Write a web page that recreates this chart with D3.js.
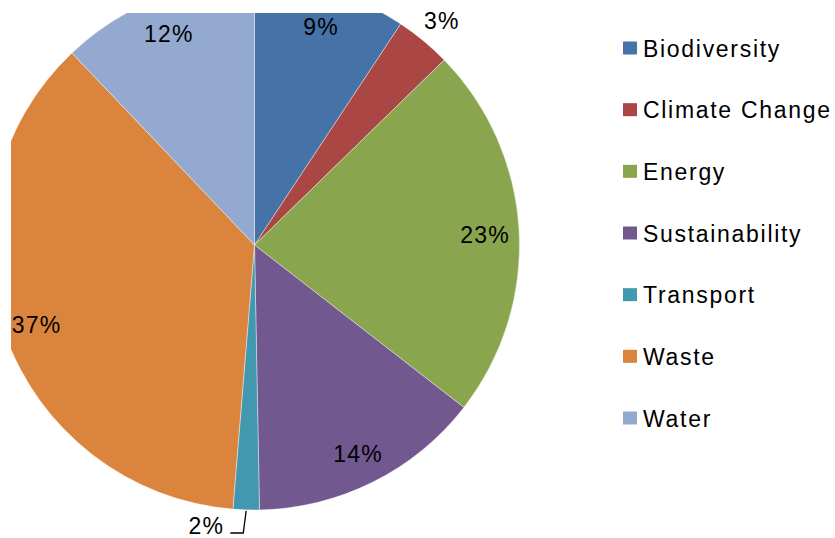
<!DOCTYPE html>
<html>
<head>
<meta charset="utf-8">
<script src="https://cdn.jsdelivr.net/npm/d3@7"></script>
<style>
  html, body { margin: 0; padding: 0; background: #fff; }
  svg { display: block; }
  text { font-family: "Liberation Sans", Arial, sans-serif; fill: #000; }
</style>
</head>
<body>
<svg id="chart" width="835" height="538"></svg>
<script>
// Share of projects by theme (percent of total)
const categories = ["Biodiversity", "Climate Change", "Energy", "Sustainability", "Transport", "Waste", "Water"];
const shares = [9.3, 3.4, 22.8, 14.2, 1.6, 36.6, 12.1];
const colors = ["#4572A7", "#AA4643", "#89A54E", "#71588F", "#4198AF", "#DB843D", "#93A9CF"];

const W = 835, H = 538;
const cx = 254.5, cy = 245, R = 265;

const svg = d3.select("#chart");

// plot area clips the pie on the left and top
svg.append("defs").append("clipPath").attr("id", "plotClip")
  .append("rect").attr("x", 11).attr("y", 13).attr("width", 600).attr("height", H - 13);

const total = d3.sum(shares);
const pct = d3.format(".0%");
const data = categories.map((c, i) => ({ name: c, value: shares[i], color: colors[i] }));

const pie = d3.pie().sort(null).value(d => d.value);
const arcs = pie(data);

const arc = d3.arc().innerRadius(0).outerRadius(R);
const labelArcIn = d3.arc().innerRadius(231).outerRadius(231);
const labelArcOut = d3.arc().innerRadius(R + 29).outerRadius(R + 29);
const edgeArc = d3.arc().innerRadius(R + 1).outerRadius(R + 1);

const g = svg.append("g").attr("clip-path", "url(#plotClip)")
  .append("g").attr("transform", `translate(${cx},${cy})`);

g.selectAll("path.slice")
  .data(arcs)
  .join("path")
  .attr("class", "slice")
  .attr("d", arc)
  .attr("fill", d => d.data.color)
  .attr("stroke", "#ffffff")
  .attr("stroke-width", 0.4);

// data labels
const LABEL_SIZE = 23, LABEL_DY = 3;
const lbl = svg.append("g").attr("transform", `translate(${cx},${cy})`);
arcs.forEach(d => {
  const share = d.data.value / total;
  const txt = pct(share);
  if (share >= 0.05) {
    const [x, y] = labelArcIn.centroid(d);
    lbl.append("text")
      .attr("x", x).attr("y", y + LABEL_DY)
      .attr("text-anchor", "middle")
      .attr("dominant-baseline", "central")
      .attr("font-size", LABEL_SIZE)
      .attr("letter-spacing", 1.2)
      .text(txt);
  } else {
    const [x, y] = labelArcOut.centroid(d);
    if (cy + y + 12 > H) {
      // label would fall off the bottom: pull it aside with a leader line
      const [sx, sy] = edgeArc.centroid(d);
      const ex = x - 2, ey = H - 5 - cy;
      lbl.append("path")
        .attr("d", `M${sx},${sy}L${ex},${ey}L${ex - 13},${ey}`)
        .attr("fill", "none")
        .attr("stroke", "#000")
        .attr("stroke-width", 1.3);
      lbl.append("text")
        .attr("x", ex - 19).attr("y", H - 4 - cy)
        .attr("text-anchor", "end")
        .attr("font-size", LABEL_SIZE)
        .attr("letter-spacing", 1.2)
        .text(txt);
    } else {
      lbl.append("text")
        .attr("x", x).attr("y", y + LABEL_DY)
        .attr("text-anchor", "middle")
        .attr("dominant-baseline", "central")
        .attr("font-size", LABEL_SIZE)
        .attr("letter-spacing", 1.2)
        .text(txt);
    }
  }
});

// legend
const legendY = d3.scalePoint().domain(categories).range([48, 418]);
const leg = svg.append("g");
const item = leg.selectAll("g.item")
  .data(data)
  .join("g")
  .attr("class", "item")
  .attr("transform", d => `translate(623,${legendY(d.name)})`);
item.append("rect")
  .attr("x", 0).attr("y", -6.5)
  .attr("width", 14).attr("height", 13)
  .attr("fill", d => d.color);
item.append("text")
  .attr("x", 20).attr("y", 8.5)
  .attr("font-size", 23)
  .attr("letter-spacing", 1.7)
  .text(d => d.name);
</script>
</body>
</html>
